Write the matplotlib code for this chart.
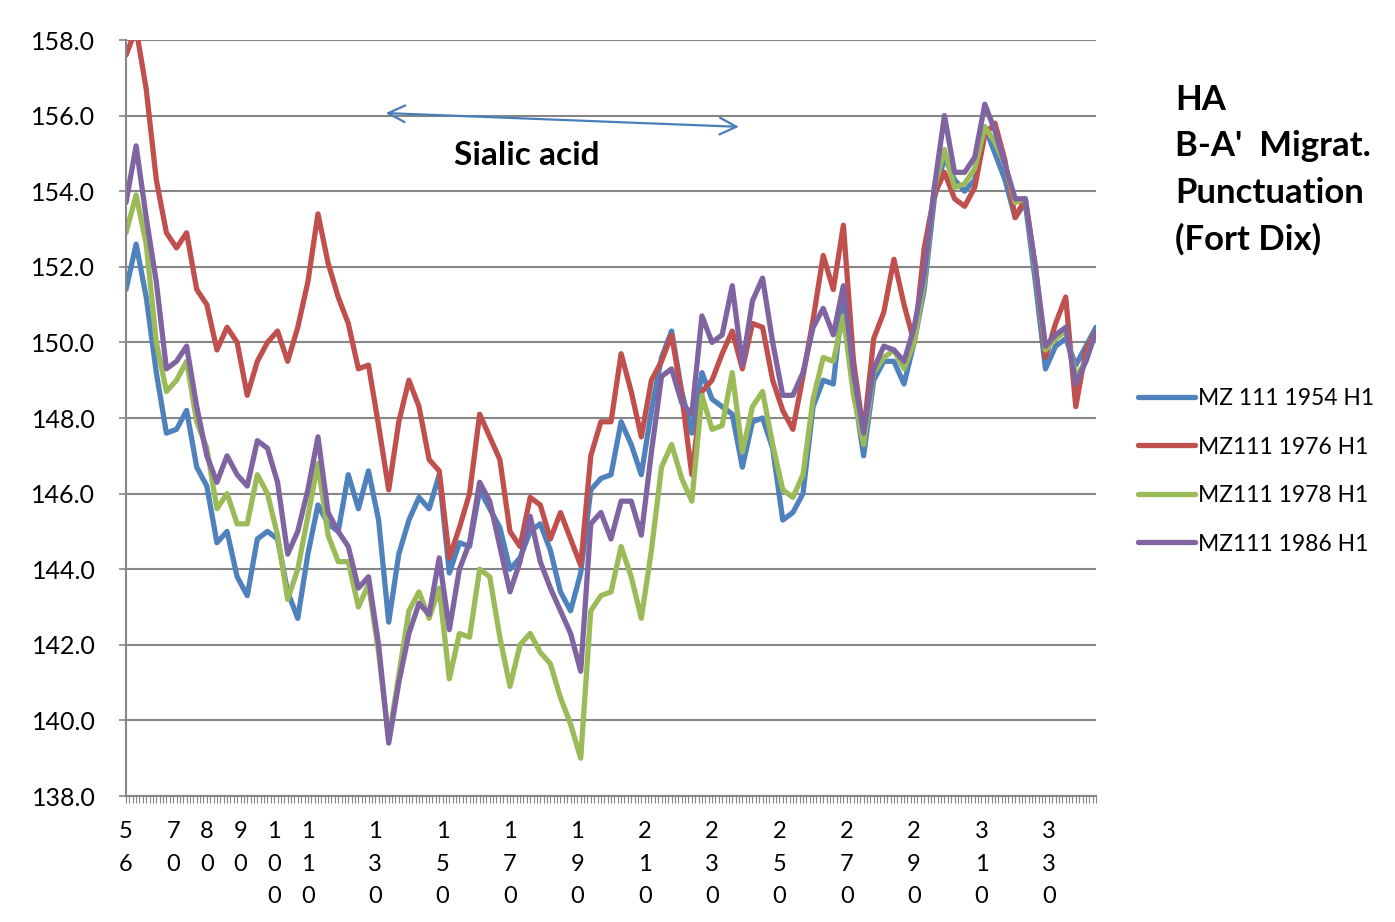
import numpy as np
import matplotlib
matplotlib.use('Agg')
import matplotlib.pyplot as plt
from matplotlib.ticker import MultipleLocator, FixedLocator

# 残基位置（每3个取一个点）
positions = np.arange(56, 345, 3)

mz111_1954 = [151.4, 152.6, 151.2, 149.2, 147.6, 147.7, 148.2, 146.7, 146.2, 144.7,
              145.0, 143.8, 143.3, 144.8, 145.0, 144.8, 143.4, 142.7, 144.4, 145.7,
              145.2, 145.0, 146.5, 145.6, 146.6, 145.3, 142.6, 144.4, 145.3, 145.9,
              145.6, 146.5, 143.9, 144.7, 144.6, 146.1, 145.6, 145.1, 144.0, 144.3,
              145.0, 145.2, 144.5, 143.4, 142.9, 143.9, 146.1, 146.4, 146.5, 147.9,
              147.3, 146.5, 148.2, 149.6, 150.3, 148.7, 147.6, 149.2, 148.5, 148.3,
              148.1, 146.7, 147.9, 148.0, 147.2, 145.3, 145.5, 146.0, 148.3, 149.0,
              148.9, 151.3, 148.8, 147.0, 149.0, 149.5, 149.5, 148.9, 150.0, 151.4,
              153.8, 154.9, 154.3, 154.0, 154.3, 155.7, 155.0, 154.3, 153.3, 153.7,
              151.6, 149.3, 149.9, 150.1, 149.4, 149.9, 150.4]

mz111_1976 = [157.6, 158.3, 156.7, 154.3, 152.9, 152.5, 152.9, 151.4, 151.0, 149.8,
              150.4, 150.0, 148.6, 149.5, 150.0, 150.3, 149.5, 150.4, 151.6, 153.4,
              152.1, 151.2, 150.5, 149.3, 149.4, 147.8, 146.1, 147.9, 149.0, 148.3,
              146.9, 146.6, 144.3, 145.1, 146.0, 148.1, 147.5, 146.9, 145.0, 144.6,
              145.9, 145.7, 144.8, 145.5, 144.8, 144.1, 147.0, 147.9, 147.9, 149.7,
              148.7, 147.5, 149.0, 149.5, 150.2, 148.6, 146.5, 148.7, 149.0, 149.7,
              150.3, 149.3, 150.5, 150.4, 149.0, 148.2, 147.7, 149.1, 150.6, 152.3,
              151.4, 153.1, 149.5, 147.6, 150.1, 150.8, 152.2, 151.0, 150.0, 152.5,
              153.9, 154.5, 153.8, 153.6, 154.1, 155.5, 155.8, 154.8, 153.3, 153.8,
              152.0, 149.6, 150.5, 151.2, 148.3, 149.8, 150.3]

mz111_1978 = [152.9, 153.9, 152.6, 150.0, 148.7, 149.0, 149.5, 147.9, 147.2, 145.6,
              146.0, 145.2, 145.2, 146.5, 146.0, 144.9, 143.2, 144.0, 145.4, 146.8,
              144.9, 144.2, 144.2, 143.0, 143.6, 141.8, 139.5, 141.2, 142.9, 143.4,
              142.7, 143.5, 141.1, 142.3, 142.2, 144.0, 143.8, 142.2, 140.9, 142.0,
              142.3, 141.8, 141.5, 140.6, 139.9, 139.0, 142.9, 143.3, 143.4, 144.6,
              143.8, 142.7, 144.5, 146.7, 147.3, 146.4, 145.8, 148.6, 147.7, 147.8,
              149.2, 147.1, 148.3, 148.7, 147.3, 146.1, 145.9, 146.5, 148.5, 149.6,
              149.5, 150.7, 148.6, 147.3, 149.2, 149.6, 149.8, 149.3, 150.0, 151.6,
              154.1, 155.1, 154.1, 154.2, 154.6, 155.7, 155.3, 154.7, 153.7, 153.8,
              151.9, 149.8, 150.1, 150.3, 149.1, 149.5, 150.3]

mz111_1986 = [153.7, 155.2, 153.3, 151.6, 149.3, 149.5, 149.9, 148.3, 147.0, 146.3,
              147.0, 146.5, 146.2, 147.4, 147.2, 146.3, 144.4, 145.0, 146.1, 147.5,
              145.5, 145.0, 144.6, 143.5, 143.8, 142.0, 139.4, 141.0, 142.3, 143.1,
              142.8, 144.3, 142.4, 144.0, 144.7, 146.3, 145.8, 144.6, 143.4, 144.2,
              145.4, 144.2, 143.5, 142.9, 142.3, 141.3, 145.2, 145.5, 144.8, 145.8,
              145.8, 144.9, 147.1, 149.1, 149.3, 148.4, 148.1, 150.7, 150.0, 150.2,
              151.5, 149.4, 151.1, 151.7, 150.0, 148.6, 148.6, 149.2, 150.4, 150.9,
              150.2, 151.5, 149.2, 147.6, 149.3, 149.9, 149.8, 149.5, 150.4, 151.8,
              154.1, 156.0, 154.5, 154.5, 154.9, 156.3, 155.6, 154.7, 153.8, 153.8,
              152.0, 149.9, 150.2, 150.4, 148.9, 149.5, 150.3]

series_names = ['MZ 111 1954 H1', 'MZ111 1976 H1', 'MZ111 1978 H1', 'MZ111 1986 H1']
series_colors = ['#4F81BD', '#C0504D', '#9BBB59', '#8064A2']

x_label_pos = [56, 70, 80, 90, 100, 110, 130, 150, 170, 190, 210, 230, 250, 270, 290, 310, 330]

plt.rcParams['font.family'] = ['Lato', 'DejaVu Sans']
W, H = 1395, 922
fig = plt.figure(figsize=(W / 100, H / 100), dpi=100)
ax = fig.add_axes([126 / W, 1 - 796 / H, (1096 - 126) / W, (796 - 40) / H])

grid_c = '#868686'
for vals, name, col in zip([mz111_1954, mz111_1976, mz111_1978, mz111_1986], series_names, series_colors):
    ax.plot(positions, vals, color=col, lw=3.8, label=name,
            solid_joinstyle='round', solid_capstyle='round')

ax.set_xlim(56, 344)
ax.set_ylim(138, 158)
ax.yaxis.set_major_locator(MultipleLocator(2))
ax.yaxis.set_major_formatter(matplotlib.ticker.FormatStrFormatter('%.1f'))
ax.grid(axis='y', color=grid_c, lw=1.5)
ax.set_axisbelow(True)

# 横轴标签：数字竖排
ax.xaxis.set_major_locator(FixedLocator(x_label_pos))
ax.set_xticklabels(['\n'.join(str(v)) for v in x_label_pos], linespacing=1.68, va='top')
ax.xaxis.set_minor_locator(MultipleLocator(1))
ax.tick_params(axis='x', which='both', length=5, width=0.8, color=grid_c, labelsize=17, pad=13)
ax.tick_params(axis='y', length=5, width=1.2, color=grid_c, labelsize=18, pad=17)

for s in ['top', 'right']:
    ax.spines[s].set_visible(False)
for s in ['left', 'bottom']:
    ax.spines[s].set_color(grid_c)
    ax.spines[s].set_linewidth(1.5)

# 双向箭头 + 标注
ax.annotate('', xy=(132.3, 156.07), xytext=(238.8, 155.7),
            arrowprops=dict(arrowstyle='<->', color='#4A7EBB', lw=1.6, mutation_scale=30))
ax.text(175, 154.95, 'Sialic acid', fontsize=24, fontweight='bold', ha='center', va='center')

fig.text(1175 / W, 1 - 84 / H, "HA\nB-A'  Migrat.\nPunctuation\n(Fort Dix)",
         fontsize=25, fontweight='bold', va='top', ha='left', linespacing=1.55)

fig.legend(loc='upper left', bbox_to_anchor=(1138 / W, 1 - 388 / H), frameon=False,
           fontsize=16.5, handlelength=2.5, handletextpad=0.1, labelspacing=1.2,
           borderpad=0, borderaxespad=0)

fig.savefig('out.png', dpi=100, facecolor='white')
